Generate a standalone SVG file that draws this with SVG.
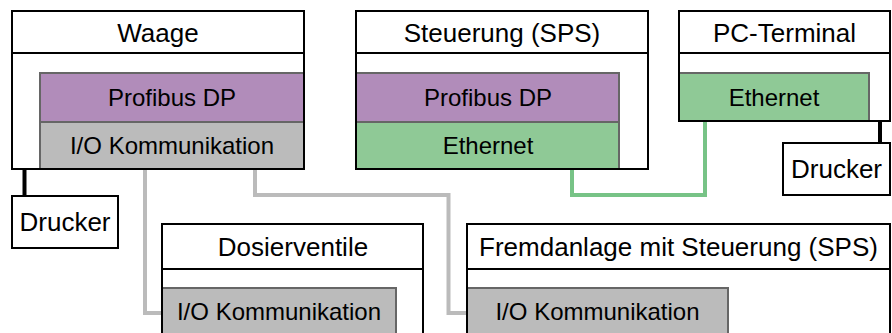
<svg xmlns="http://www.w3.org/2000/svg" width="892" height="333" viewBox="0 0 892 333">
<style>
.box{fill:none;stroke:#000;stroke-width:2}
.bg{fill:#fff}
.hd{stroke:#000;stroke-width:2}
.bar{stroke:#666;stroke-width:2}
.pb{fill:#b18cba}
.eth{fill:#8fc996}
.io{fill:#bbbbbb}
.t{font-family:"Liberation Sans",Arial,sans-serif;fill:#000;text-anchor:middle}
.tt{font-size:26px}
.tb{font-size:24px}
.cb{fill:none;stroke:#000;stroke-width:4}
.cg{fill:none;stroke:#bbbbbb;stroke-width:4}
.ce{fill:none;stroke:#77c386;stroke-width:4}
</style>
<g id="connectors">
<path class="cb" d="M24.5,169 V196"/>
<path class="cb" d="M880,121 V143"/>
<path class="ce" d="M572,169 V195 H705 V121"/>
<path class="cg" d="M145,169 V313 H163"/>
<path class="cg" d="M255,169 V195 H448.5 V313 H467"/>
</g>
<g id="waage">
<rect class="bg" x="12" y="11" width="292" height="158"/>
<rect class="bar pb" x="40" y="73" width="264" height="49"/>
<rect class="bar io" x="40" y="122" width="264" height="47"/>
<rect class="box" x="12" y="11" width="292" height="158"/>
<line class="hd" x1="12" y1="53" x2="304" y2="53"/>
<text class="t tt" x="158" y="41.5">Waage</text>
<text class="t tb" x="172" y="106">Profibus DP</text>
<text class="t tb" x="172" y="154">I/O Kommunikation</text>
</g>
<g id="steuerung">
<rect class="bg" x="356" y="11" width="292" height="158"/>
<rect class="bar pb" x="356" y="73" width="263" height="49"/>
<rect class="bar eth" x="356" y="122" width="263" height="47"/>
<rect class="box" x="356" y="11" width="292" height="158"/>
<line class="hd" x1="356" y1="53" x2="648" y2="53"/>
<text class="t tt" x="502" y="41.5">Steuerung (SPS)</text>
<text class="t tb" x="488" y="106">Profibus DP</text>
<text class="t tb" x="488" y="154">Ethernet</text>
</g>
<g id="pc-terminal">
<rect class="bg" x="679" y="11" width="211" height="110"/>
<rect class="bar eth" x="679" y="73" width="190" height="48"/>
<rect class="box" x="679" y="11" width="211" height="110"/>
<line class="hd" x1="679" y1="53" x2="890" y2="53"/>
<text class="t tt" x="784.5" y="41.5">PC-Terminal</text>
<text class="t tb" x="774" y="106">Ethernet</text>
</g>
<g id="drucker-waage">
<rect class="box bg" x="12" y="196" width="106" height="52" style="fill:#fff"/>
<text class="t tt" x="65" y="231">Drucker</text>
</g>
<g id="drucker-pc">
<rect class="box" x="783" y="143" width="107" height="52" style="fill:#fff"/>
<text class="t tt" x="836.5" y="178">Drucker</text>
</g>
<g id="dosierventile">
<rect class="bg" x="162" y="224" width="261" height="125"/>
<rect class="bar io" x="162" y="288" width="234" height="60"/>
<rect class="box" x="162" y="224" width="261" height="125"/>
<line class="hd" x1="162" y1="269" x2="423" y2="269"/>
<text class="t tt" x="293" y="255.5">Dosierventile</text>
<text class="t tb" x="279" y="320">I/O Kommunikation</text>
</g>
<g id="fremdanlage">
<rect class="bg" x="467" y="224" width="423" height="125"/>
<rect class="bar io" x="467" y="288" width="261" height="60"/>
<rect class="box" x="467" y="224" width="423" height="125"/>
<line class="hd" x1="467" y1="269" x2="890" y2="269"/>
<text class="t tt" x="678.5" y="255.5">Fremdanlage mit Steuerung (SPS)</text>
<text class="t tb" x="597.5" y="320">I/O Kommunikation</text>
</g>
</svg>
